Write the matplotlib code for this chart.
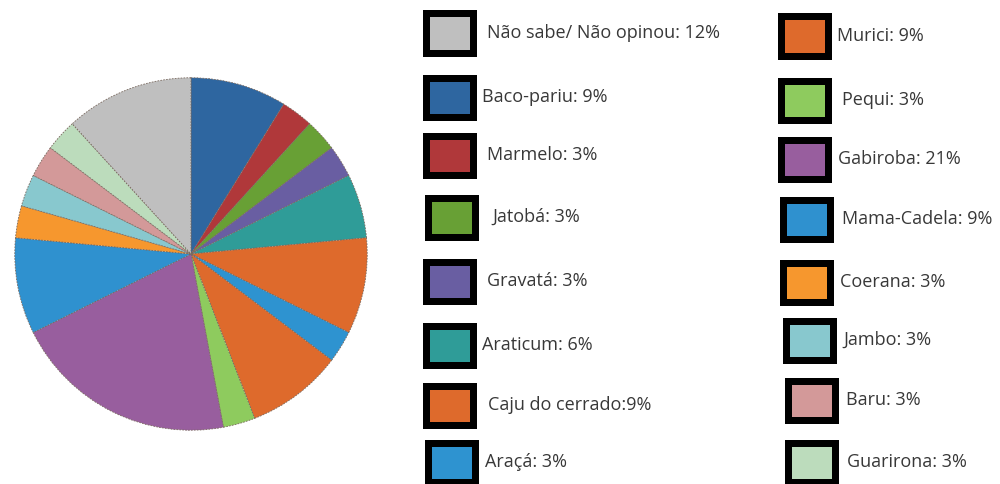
import matplotlib
matplotlib.use("Agg")
import matplotlib.pyplot as plt
from matplotlib.patches import Rectangle

# Frutos citados (ordem da pizza, sentido horário a partir do topo)
names = ["Baco-pariu", "Marmelo", "Jatobá", "Gravatá", "Araticum",
         "Caju do cerrado", "Araçá", "Murici", "Pequi", "Gabiroba",
         "Mama-Cadela", "Coerana", "Jambo", "Baru", "Guarirona",
         "Não sabe/ Não opinou"]
values = [9, 3, 3, 3, 6, 9, 3, 9, 3, 21, 9, 3, 3, 3, 3, 12]
colors = ["#2E66A0", "#B0383A", "#68A035", "#695EA2", "#2F9C98",
          "#DE6A2C", "#2E93D0", "#DE6A2C", "#8ECB5E", "#985E9E",
          "#2F91CF", "#F6972E", "#88C8CE", "#D39999", "#BCDCBC",
          "#BFBFBF"]

# Ordem das entradas na legenda (duas colunas)
legend_col1 = ["Não sabe/ Não opinou", "Baco-pariu", "Marmelo", "Jatobá",
               "Gravatá", "Araticum", "Caju do cerrado", "Araçá"]
legend_col2 = ["Murici", "Pequi", "Gabiroba", "Mama-Cadela", "Coerana",
               "Jambo", "Baru", "Guarirona"]

W, H = 1000, 484
fig = plt.figure(figsize=(W / 100, H / 100), dpi=100)
fig.patch.set_facecolor("white")

# Pizza
cx, cy, r = 191, 254, 178
ax = fig.add_axes([(cx - r) / W, (H - cy - r) / H, 2 * r / W, 2 * r / H])
ax.pie(values, colors=colors, startangle=90, counterclock=False,
       radius=1.0, wedgeprops=dict(linewidth=0.6, edgecolor="#7a6a60",
                                   linestyle=(0, (2, 1.5))))
ax.set_xlim(-1.01, 1.01)
ax.set_ylim(-1.01, 1.01)
ax.set_aspect("equal")
ax.axis("off")

color_of = dict(zip(names, colors))
value_of = dict(zip(names, values))


def px(x, y):
    return x / W, 1 - y / H


def legend_entry(name, box_x, row_y, text_x):
    bw, bh, lw = 47, 39, 7
    x0, y0 = px(box_x + lw / 2, row_y + bh / 2)
    fig.patches.append(Rectangle((x0, y0), bw / W, bh / H,
                                 transform=fig.transFigure,
                                 facecolor=color_of[name], edgecolor="black",
                                 linewidth=lw * 72 / 100))
    sep = ":" if name == "Caju do cerrado" else ": "
    tx, ty = px(text_x, row_y)
    fig.text(tx, ty, f"{name}{sep}{value_of[name]}%", ha="left",
             va="center", fontsize=13, color="#383838",
             family=["Open Sans", "DejaVu Sans"])


rows1 = [33, 97, 155, 217, 281, 345, 405, 462]
box1 = [422, 422, 422, 424, 422, 422, 422, 424]
text1 = [487, 482, 487, 492, 487, 482, 488, 485]
rows2 = [36, 100, 159, 219, 282, 340, 400, 462]
box2 = [777, 777, 777, 779, 779, 782, 784, 784]
text2 = [837, 842, 838, 842, 840, 843, 846, 847]

for name, y, bx, tx in zip(legend_col1, rows1, box1, text1):
    legend_entry(name, bx, y, tx)
for name, y, bx, tx in zip(legend_col2, rows2, box2, text2):
    legend_entry(name, bx, y, tx)

fig.savefig("out.png", dpi=100, facecolor="white")
